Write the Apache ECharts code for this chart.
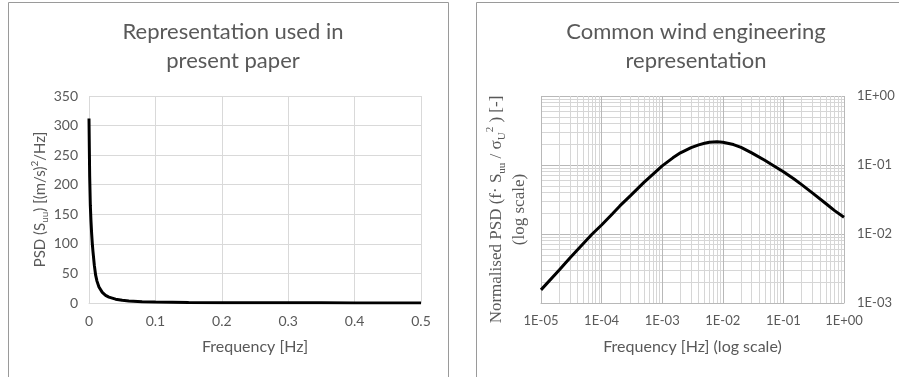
<!DOCTYPE html>
<html>
<head>
<meta charset="utf-8">
<script src="https://cdn.jsdelivr.net/npm/echarts@6/dist/echarts.min.js"></script>
<style>
  html, body { margin: 0; padding: 0; background: #fff; }
  #chart { width: 899px; height: 377px; }
</style>
</head>
<body>
<div id="chart"></div>
<script>
// left panel: PSD on linear axes
const linFreq = [0, 0.0005, 0.001, 0.002, 0.003, 0.004, 0.005, 0.006, 0.008, 0.01, 0.012, 0.015,
  0.02, 0.025, 0.03, 0.04, 0.05, 0.06, 0.08, 0.1, 0.15, 0.2, 0.25, 0.3, 0.35, 0.4, 0.45, 0.5];
const linPsd = [312, 262, 215, 165, 138, 117, 100, 87, 64, 47, 37, 27,
  18, 13, 10, 6.5, 4.5, 3.4, 2.2, 1.6, 0.9, 0.55, 0.4, 0.3, 0.23, 0.18, 0.15, 0.12];

// right panel: normalised PSD on log axes
const logFreq = [1e-5, 2e-5, 3e-5, 5e-5, 7e-5, 1e-4, 1.5e-4, 2e-4, 3e-4, 5e-4, 7e-4,
  1e-3, 1.5e-3, 2e-3, 3e-3, 4e-3, 5e-3, 6e-3, 7e-3, 8e-3, 1e-2, 1.5e-2, 2e-2, 3e-2, 5e-2, 7e-2,
  0.1, 0.15, 0.2, 0.3, 0.5, 0.7, 1];
const logPsd = [0.00155, 0.0030, 0.0045, 0.0073, 0.0100, 0.0135, 0.0195, 0.0255, 0.036, 0.056, 0.073,
  0.097, 0.127, 0.150, 0.178, 0.196, 0.207, 0.213, 0.216, 0.217, 0.214, 0.198, 0.180, 0.150, 0.116, 0.097,
  0.080, 0.0625, 0.052, 0.0395, 0.0277, 0.0218, 0.0175];

const titles = ['Representation used in\npresent paper', 'Common wind engineering\nrepresentation'];

const grey = '#595959';
const font = 'Lato, "Noto Sans", sans-serif';
const serif = '"Liberation Serif", "DejaVu Serif", serif';

const expLabel = v => {
  const e = Math.round(Math.log10(v));
  return '1E' + (e < 0 ? '-' : '+') + String(Math.abs(e)).padStart(2, '0');
};

const chart = echarts.init(document.getElementById('chart'), null, { renderer: 'canvas' });

chart.setOption({
  animation: false,
  textStyle: { fontFamily: font, color: grey },
  title: [
    { text: titles[0], left: 228, top: 12, textAlign: 'center',
      textStyle: { fontFamily: font, fontSize: 22, fontWeight: 'normal', color: grey, lineHeight: 29 } },
    { text: titles[1], left: 691, top: 12, textAlign: 'center',
      textStyle: { fontFamily: font, fontSize: 22, fontWeight: 'normal', color: grey, lineHeight: 29 } }
  ],
  graphic: [
    { type: 'rect', shape: { x: 8.5, y: 2.5, width: 440, height: 420 },
      style: { fill: 'none', stroke: '#9a9a9a', lineWidth: 1 }, silent: true },
    { type: 'rect', shape: { x: 476.5, y: 2.5, width: 440, height: 420 },
      style: { fill: 'none', stroke: '#9a9a9a', lineWidth: 1 }, silent: true }
  ],
  grid: [
    { left: 89, top: 96, width: 332, height: 207 },
    { left: 541, top: 96, width: 303, height: 207 }
  ],
  xAxis: [
    {
      gridIndex: 0, type: 'value', min: 0, max: 0.5, interval: 0.1,
      name: 'Frequency [Hz]', nameLocation: 'middle', nameGap: 36,
      nameTextStyle: { fontSize: 16, color: grey, fontFamily: font },
      axisLine: { lineStyle: { color: '#d9d9d9' } },
      axisTick: { show: false },
      axisLabel: { color: grey, fontSize: 14, margin: 11 },
      splitLine: { lineStyle: { color: '#d9d9d9' } }
    },
    {
      gridIndex: 1, type: 'log', logBase: 10, min: 1e-5, max: 1,
      name: 'Frequency [Hz] (log scale)', nameLocation: 'middle', nameGap: 36,
      nameTextStyle: { fontSize: 16, color: grey, fontFamily: font },
      axisLine: { lineStyle: { color: '#b8b8b8' } },
      axisTick: { show: false },
      axisLabel: { color: grey, fontSize: 13, margin: 11, formatter: expLabel },
      splitLine: { lineStyle: { color: '#b8b8b8' } },
      minorTick: { show: false, splitNumber: 9 },
      minorSplitLine: { show: true, lineStyle: { color: '#d6d6d6' } }
    }
  ],
  yAxis: [
    {
      gridIndex: 0, type: 'value', min: 0, max: 350, interval: 50,
      name: 'PSD (S{sub|uu}) [(m/s){sup|2}/Hz]', nameLocation: 'middle', nameGap: 38,
      nameTextStyle: {
        fontSize: 15, color: grey, fontFamily: font, lineHeight: 20,
        rich: {
          sub: { fontSize: 10, color: grey, fontFamily: font, lineHeight: 20, verticalAlign: 'bottom' },
          sup: { fontSize: 10, color: grey, fontFamily: font, lineHeight: 20, verticalAlign: 'top' }
        }
      },
      axisLine: { show: false },
      axisTick: { show: false },
      axisLabel: { color: grey, fontSize: 14, margin: 11 },
      splitLine: { lineStyle: { color: '#d9d9d9' } }
    },
    {
      gridIndex: 1, type: 'log', logBase: 10, min: 1e-3, max: 1, position: 'right',
      axisLine: { show: false },
      axisTick: { show: false },
      axisLabel: { color: grey, fontSize: 13, margin: 13, formatter: expLabel },
      splitLine: { lineStyle: { color: '#b8b8b8' } },
      minorTick: { show: false, splitNumber: 9 },
      minorSplitLine: { show: true, lineStyle: { color: '#d6d6d6' } }
    },
    {
      // carries only the axis title on the left side of the log plot
      gridIndex: 1, type: 'log', logBase: 10, min: 1e-3, max: 1, position: 'left',
      name: 'Normalised PSD (f· S{sub|uu} / σ{sub|U}{sup|2} ) [-]\n(log scale)',
      nameLocation: 'middle', nameGap: 10,
      nameTextStyle: {
        fontSize: 17, color: grey, fontFamily: serif, lineHeight: 23, padding: [0, 20, 0, 0],
        rich: {
          sub: { fontSize: 11, color: grey, fontFamily: serif, lineHeight: 23, verticalAlign: 'bottom' },
          sup: { fontSize: 11, color: grey, fontFamily: serif, lineHeight: 23, verticalAlign: 'top' }
        }
      },
      axisLine: { show: false },
      axisTick: { show: false },
      axisLabel: { show: false },
      splitLine: { show: false }
    }
  ],
  series: [
    {
      type: 'line', xAxisIndex: 0, yAxisIndex: 0, showSymbol: false, smooth: false,
      lineStyle: { color: '#000', width: 3 },
      data: linFreq.map((f, i) => [f, linPsd[i]])
    },
    {
      type: 'line', xAxisIndex: 1, yAxisIndex: 1, showSymbol: false, smooth: false,
      lineStyle: { color: '#000', width: 3 },
      data: logFreq.map((f, i) => [f, logPsd[i]])
    }
  ]
});
</script>
</body>
</html>
